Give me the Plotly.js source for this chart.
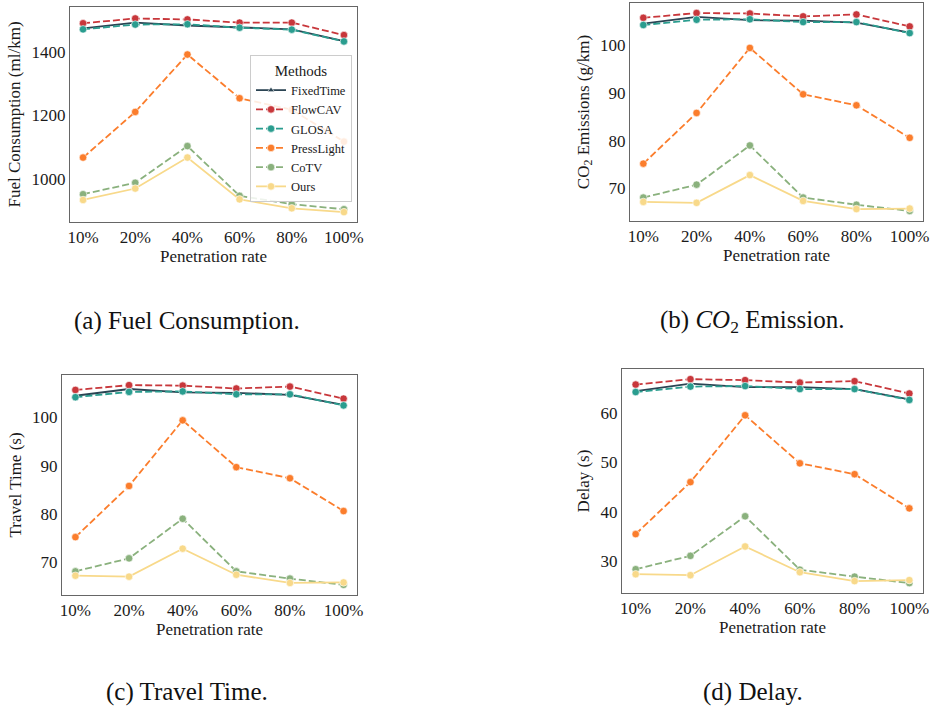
<!DOCTYPE html>
<html>
<head>
<meta charset="utf-8">
<script src="https://cdn.plot.ly/plotly-3.0.1.min.js"></script>
<style>
  html, body { margin: 0; padding: 0; background: #ffffff; }
  #chart { width: 933px; height: 711px; }
</style>
</head>
<body>
<div id="chart"></div>
<script>
// ---------- data ----------
const rates = ["10%", "20%", "40%", "60%", "80%", "100%"];
const methods = ["FixedTime", "FlowCAV", "GLOSA", "PressLight", "CoTV", "Ours"];

// (a) Fuel Consumption (ml/km)
const fuelFixedTime  = [1473, 1491, 1482, 1476, 1470, 1433];
const fuelFlowCAV    = [1489, 1504, 1501, 1491, 1491, 1452];
const fuelGLOSA      = [1470, 1485, 1486, 1475, 1469, 1432];
const fuelPressLight = [1068, 1211, 1391, 1254, 1218, 1118];
const fuelCoTV       = [953, 989, 1104, 948, 922, 906];
const fuelOurs       = [935, 971, 1068, 937, 909, 897];

// (b) CO2 Emissions (g/km)
const co2FixedTime  = [104.5, 105.9, 105.2, 105.1, 104.7, 102.6];
const co2FlowCAV    = [105.7, 106.7, 106.6, 106.0, 106.4, 103.9];
const co2GLOSA      = [104.2, 105.3, 105.4, 104.8, 104.8, 102.5];
const co2PressLight = [75.2, 85.8, 99.4, 89.7, 87.4, 80.6];
const co2CoTV       = [68.1, 70.8, 79.0, 68.1, 66.6, 65.3];
const co2Ours       = [67.2, 67.0, 72.8, 67.4, 65.7, 65.8];

// (c) Travel Time (s)
const ttFixedTime  = [104.5, 105.9, 105.2, 105.1, 104.7, 102.6];
const ttFlowCAV    = [105.7, 106.7, 106.6, 106.0, 106.4, 103.9];
const ttGLOSA      = [104.2, 105.3, 105.4, 104.8, 104.8, 102.5];
const ttPressLight = [75.2, 85.8, 99.4, 89.7, 87.4, 80.6];
const ttCoTV       = [68.1, 70.8, 79.0, 68.1, 66.6, 65.3];
const ttOurs       = [67.2, 67.0, 72.8, 67.4, 65.7, 65.8];

// (d) Delay (s)
const delayFixedTime  = [64.4, 65.9, 65.2, 65.2, 64.8, 62.7];
const delayFlowCAV    = [65.7, 66.8, 66.6, 66.1, 66.4, 63.9];
const delayGLOSA      = [64.2, 65.3, 65.4, 64.8, 64.8, 62.6];
const delayPressLight = [35.5, 46.0, 59.5, 49.8, 47.6, 40.7];
const delayCoTV       = [28.4, 31.1, 39.1, 28.3, 26.9, 25.6];
const delayOurs       = [27.4, 27.2, 33.0, 27.8, 26.0, 26.2];

const panelTitles = ["Fuel Consumption (ml/km)", "CO<sub>2</sub> Emissions (g/km)", "Travel Time (s)", "Delay (s)"];
const captions = ["(a) Fuel Consumption.", "(b) <i>CO</i><sub>2</sub> Emission.", "(c) Travel Time.", "(d) Delay."];

// ---------- styles ----------
const colors = {
  FixedTime: "#2b4453",
  FlowCAV: "#c8373b",
  GLOSA: "#2a9d8f",
  PressLight: "#fb7d2c",
  CoTV: "#8ab17d",
  Ours: "#f8d98a"
};
const dashes = {
  FixedTime: "solid",
  FlowCAV: "7px,3px",
  GLOSA: "7px,3px",
  PressLight: "7px,3px",
  CoTV: "7px,3px",
  Ours: "solid"
};
const symbols = {
  FixedTime: "triangle-up", FlowCAV: "circle", GLOSA: "circle",
  PressLight: "circle", CoTV: "circle", Ours: "circle"
};

const panels = [
  {series: [fuelFixedTime, fuelFlowCAV, fuelGLOSA, fuelPressLight, fuelCoTV, fuelOurs], xa: "x", ya: "y"},
  {series: [co2FixedTime, co2FlowCAV, co2GLOSA, co2PressLight, co2CoTV, co2Ours], xa: "x2", ya: "y2"},
  {series: [ttFixedTime, ttFlowCAV, ttGLOSA, ttPressLight, ttCoTV, ttOurs], xa: "x3", ya: "y3"},
  {series: [delayFixedTime, delayFlowCAV, delayGLOSA, delayPressLight, delayCoTV, delayOurs], xa: "x4", ya: "y4"}
];

const traces = [];
panels.forEach((p, pi) => {
  methods.forEach((m, mi) => {
    traces.push({
      type: "scatter",
      mode: "lines+markers",
      name: m,
      x: rates,
      y: p.series[mi],
      xaxis: p.xa,
      yaxis: p.ya,
      showlegend: pi === 0,
      legendgroup: m,
      line: {color: colors[m], width: 1.8, dash: dashes[m]},
      marker: {
        symbol: symbols[m],
        size: m === "FixedTime" ? 6 : 7.5,
        color: colors[m],
        line: {color: "#ffffff", width: 0.6}
      },
      hoverinfo: "x+y+name"
    });
  });
});

const W = 933, H = 711;
function dx(a, b) { return [a / W, b / W]; }
function dy(top, bottom) { return [1 - bottom / H, 1 - top / H]; }

const FAM = "Liberation Serif";
const font = {family: FAM, color: "#1a1a1a"};
function xaxis(domain, anchor) {
  return {
    domain: domain, anchor: anchor,
    type: "category",
    range: [-0.25, 5.25],
    showgrid: false, zeroline: false,
    showline: true, mirror: true, linecolor: "#666666", linewidth: 1,
    ticks: "", tickfont: {family: FAM, size: 17, color: "#1a1a1a"},
    title: {text: "Penetration rate", font: {family: FAM, size: 17, color: "#1a1a1a"}, standoff: 2},
    automargin: false
  };
}
function yaxis(domain, anchor, range, dtick, title) {
  return {
    domain: domain, anchor: anchor,
    range: range, dtick: dtick,
    showgrid: false, zeroline: false,
    showline: true, mirror: true, linecolor: "#666666", linewidth: 1,
    ticks: "", tickfont: {family: FAM, size: 17, color: "#1a1a1a"},
    title: {text: title, font: {family: FAM, size: 17, color: "#1a1a1a"}, standoff: 6},
    automargin: false
  };
}

const capFont = {family: FAM, size: 25, color: "#111111"};
function caption(text, cx, cy) {
  return {text: text, x: cx / W, y: 1 - cy / H, xref: "paper", yref: "paper",
          xanchor: "center", yanchor: "middle", showarrow: false, font: capFont};
}

const layout = {
  width: W, height: H,
  margin: {l: 0, r: 0, t: 0, b: 0},
  paper_bgcolor: "#ffffff",
  plot_bgcolor: "#ffffff",
  font: font,
  showlegend: true,
  xaxis:  xaxis(dx(70, 357), "y"),
  yaxis:  yaxis(dy(7, 222), "x", [866, 1540], 200, panelTitles[0]),
  xaxis2: xaxis(dx(630, 923), "y2"),
  yaxis2: yaxis(dy(3, 221), "x2", [63.2, 108.8], 10, panelTitles[1]),
  xaxis3: xaxis(dx(62, 357), "y3"),
  yaxis3: yaxis(dy(375, 595), "x3", [63.2, 108.8], 10, panelTitles[2]),
  xaxis4: xaxis(dx(622, 923), "y4"),
  yaxis4: yaxis(dy(369, 593), "x4", [23.6, 68.85], 10, panelTitles[3]),
  legend: {
    x: 352 / W, xanchor: "right",
    y: 1 - 55 / H, yanchor: "top",
    bgcolor: "rgba(255,255,255,0.85)",
    bordercolor: "#cccccc", borderwidth: 1,
    font: {family: FAM, size: 12.5, color: "#1a1a1a"},
    title: {text: "Methods", side: "top center", font: {family: FAM, size: 15, color: "#1a1a1a"}},
    tracegroupgap: 0,
    itemwidth: 30
  },
  annotations: [
    caption(captions[0], 187, 321),
    caption(captions[1], 752, 321),
    caption(captions[2], 187, 692),
    caption(captions[3], 753, 692)
  ]
};

Plotly.newPlot("chart", traces, layout, {displayModeBar: false, staticPlot: true});
</script>
</body>
</html>
